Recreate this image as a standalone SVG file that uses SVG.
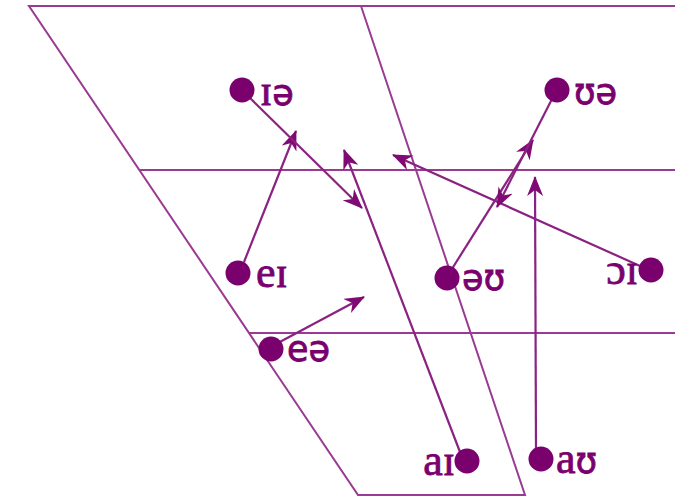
<svg xmlns="http://www.w3.org/2000/svg" width="675" height="500" viewBox="0 0 675 500">
<style>
.frame{fill:none;stroke:#9a3a92;stroke-width:2}
.con{fill:none;stroke:#8a2282;stroke-width:2.2}
.dot{fill:#7a006e}
.lbl{font-family:"Liberation Serif","DejaVu Serif",serif;font-size:44px;fill:#7a006e;stroke:#7a006e;stroke-width:0.8}
.s{font-family:"DejaVu Sans","Liberation Sans",sans-serif;font-size:35px}
</style>
<defs>
<marker id="ah" viewBox="0 0 20 16" refX="19" refY="8" markerWidth="20" markerHeight="16" markerUnits="userSpaceOnUse" orient="auto">
<path d="M0,0 L20,8 L0,16 L6,8 z" fill="#800a74"/>
</marker>
</defs>
<rect width="675" height="500" fill="#fff"/>
<g id="frame">
<path class="frame" d="M675,6 H29 L358,495 H525 L361,6"/>
<path class="frame" d="M139,170 H675"/>
<path class="frame" d="M249,333 H675"/>
</g>
<g id="connectors">
<path class="con" d="M244,262 L296,131" marker-end="url(#ah)"/>
<path class="con" d="M250,98 L362,208" marker-end="url(#ah)"/>
<path class="con" d="M460,452 L344,150" marker-end="url(#ah)"/>
<path class="con" d="M640,266 L393,155" marker-end="url(#ah)"/>
<path class="con" d="M450,272 L533,140" marker-end="url(#ah)"/>
<path class="con" d="M553,97 L497,207" marker-end="url(#ah)"/>
<path class="con" d="M536,452 L535,177" marker-end="url(#ah)"/>
<path class="con" d="M276,344 L364,297" marker-end="url(#ah)"/>
</g>
<g id="n-ie"><circle class="dot" cx="242" cy="90" r="12.5"/><text class="lbl" x="260" y="105">ɪ<tspan class="s">ə</tspan></text></g>
<g id="n-ue"><circle class="dot" cx="557" cy="90" r="12.5"/><text class="lbl s" x="574" y="104">ʊə</text></g>
<g id="n-ei"><circle class="dot" cx="238" cy="273" r="12.5"/><text class="lbl" x="256" y="287">eɪ</text></g>
<g id="n-eu"><circle class="dot" cx="447" cy="278" r="12.5"/><text class="lbl s" x="462" y="290">əʊ</text></g>
<g id="n-oi"><circle class="dot" cx="651" cy="270" r="12.5"/><text class="lbl" x="638" y="284" text-anchor="end">ɔɪ</text></g>
<g id="n-ea"><circle class="dot" cx="271" cy="349" r="12.5"/><text class="lbl s" x="287" y="361">eə</text></g>
<g id="n-ai"><circle class="dot" cx="467" cy="461" r="12.5"/><text class="lbl" x="455" y="475" text-anchor="end">aɪ</text></g>
<g id="n-au"><circle class="dot" cx="541" cy="459" r="12.5"/><text class="lbl" x="556" y="473">a<tspan class="s">ʊ</tspan></text></g>
</svg>
